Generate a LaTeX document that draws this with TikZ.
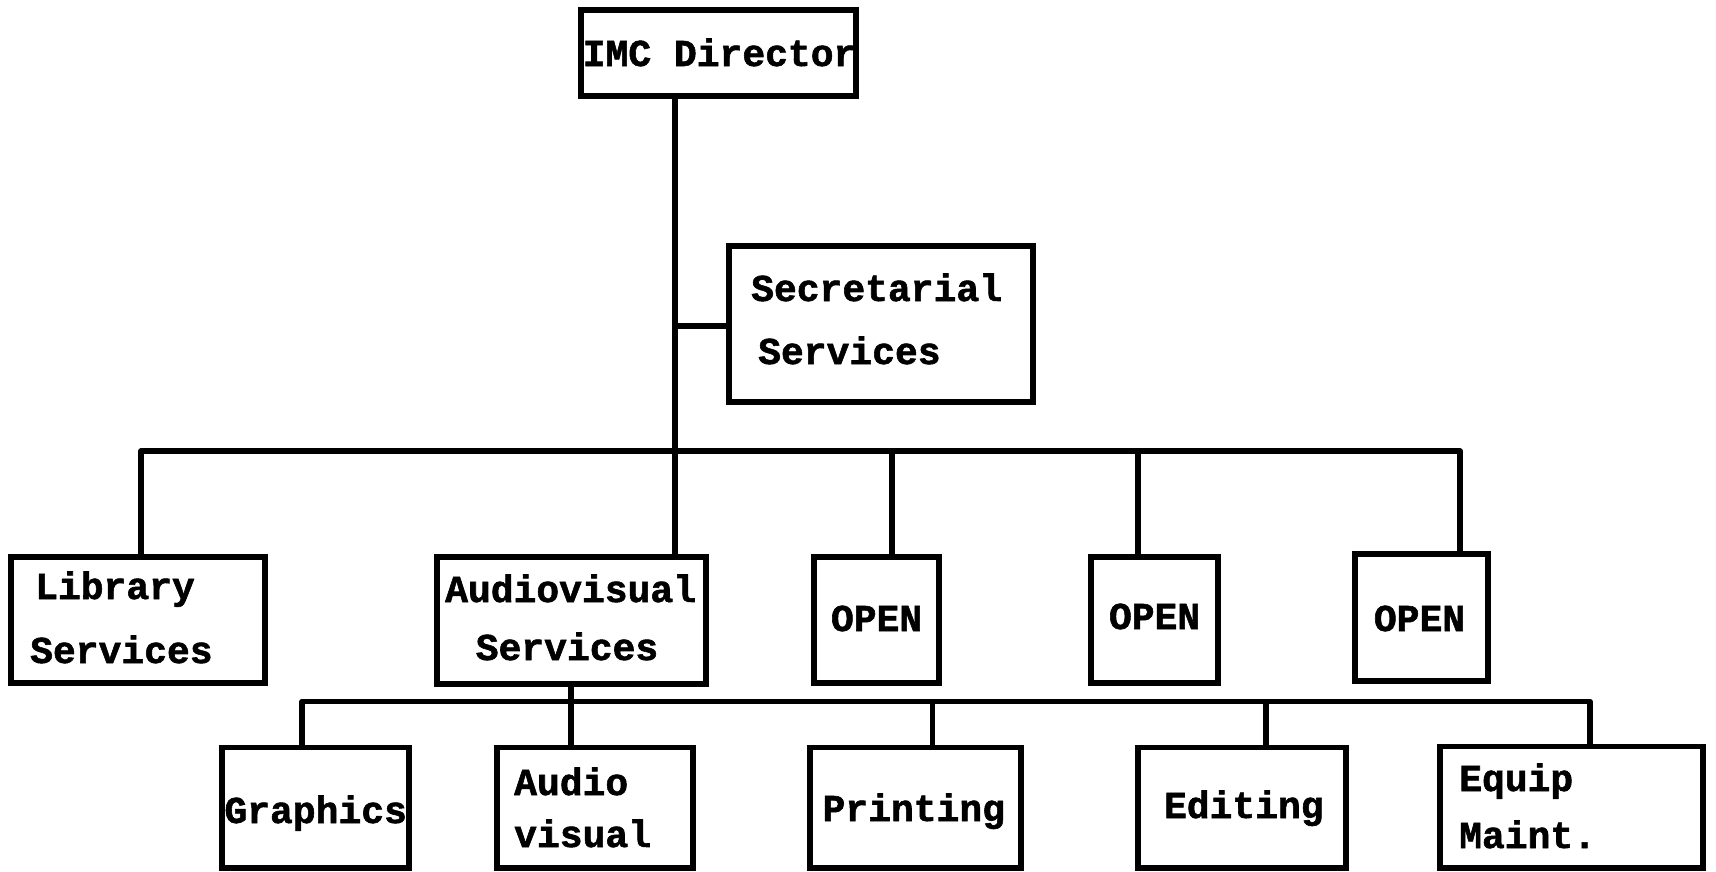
\documentclass[tikz,border=0pt]{standalone}
\usepackage{fontspec}
\newfontfamily\tyf[FakeBold=1.5]{Liberation Mono Bold}
\begin{document}
\begin{tikzpicture}[x=1pt,y=-1pt,
  box/.style={draw, line width=5.5pt, rectangle, inner sep=0pt},
  conn/.style={draw, line width=5.5pt, line join=round},
  lbl/.style={font=\tyf\fontsize{38}{40}\selectfont, inner sep=0pt}]
\useasboundingbox (0,0) rectangle (1716,871);
% boxes
\node[box, minimum width=275pt, minimum height=86pt] (imc) at (718.5,53) {};
\node[box, minimum width=304pt, minimum height=156pt] (sec) at (881,324) {};
\node[box, minimum width=254pt, minimum height=126pt] (lib) at (138,620) {};
\node[box, minimum width=269pt, minimum height=127pt] (av) at (571.5,620.5) {};
\node[box, minimum width=125pt, minimum height=126pt] (op1) at (876.5,620) {};
\node[box, minimum width=127pt, minimum height=126pt] (op2) at (1154.5,620) {};
\node[box, minimum width=133pt, minimum height=127pt] (op3) at (1421.5,617.5) {};
\node[box, minimum width=187pt, minimum height=120.5pt] (gr) at (315.5,807.75) {};
\node[box, minimum width=196pt, minimum height=120.5pt] (avis) at (595,807.75) {};
\node[box, minimum width=211pt, minimum height=120.5pt] (pr) at (915.5,807.75) {};
\node[box, minimum width=208pt, minimum height=120.5pt] (ed) at (1242,807.75) {};
\node[box, minimum width=263pt, minimum height=121.5pt] (eq) at (1571.5,807.25) {};
% labels
\node[lbl, anchor=base] (timc) at (719.6,66) {IMC Director};
\node[lbl, anchor=base west] (tsec1) at (751,301) {Secretarial};
\node[lbl, anchor=base west] (tsec2) at (758,364) {Services};
\node[lbl, anchor=base west] (tlib1) at (35,599) {Library};
\node[lbl, anchor=base west] (tlib2) at (30,663) {Services};
\node[lbl, anchor=base west] (tav1) at (445,602) {Audiovisual};
\node[lbl, anchor=base] (tav2) at (567,660) {Services};
\node[lbl, anchor=base] (to1) at (876.6,631) {OPEN};
\node[lbl, anchor=base] (to2) at (1154.6,629) {OPEN};
\node[lbl, anchor=base] (to3) at (1419.5,631) {OPEN};
\node[lbl, anchor=base] (tgr) at (315.7,823) {Graphics};
\node[lbl, anchor=base west] (tavis1) at (514,795) {Audio};
\node[lbl, anchor=base west] (tavis2) at (514,847) {visual};
\node[lbl, anchor=base] (tpr) at (913.8,821) {Printing};
\node[lbl, anchor=base] (ted) at (1243.8,818) {Editing};
\node[lbl, anchor=base west] (teq1) at (1459,791) {Equip};
\node[lbl, anchor=base west] (teq2) at (1459,848) {Maint.};
% connector coordinates
\coordinate (jsec) at (675,326);
\coordinate (b1) at (141,451);
\coordinate (b2) at (675,451);
\coordinate (b3) at (892,451);
\coordinate (b4) at (1138,451);
\coordinate (b5) at (1460,451);
\coordinate (s1) at (302,701.5);
\coordinate (s2) at (571,701.5);
\coordinate (s3) at (932.4,701.5);
\coordinate (s4) at (1266,701.5);
\coordinate (s5) at (1590,701.5);
% connectors
\path[conn] (imc.south -| b2) -- (av.north -| b2);
\path[conn] (jsec) -- (jsec -| sec.west);
\path[conn] (lib.north -| b1) -- (b1) -- (b5) -- (op3.north -| b5);
\path[conn] (b3) -- (op1.north -| b3);
\path[conn] (b4) -- (op2.north -| b4);
\path[conn] (av.south -| s2) -- (avis.north -| s2);
\path[conn] (gr.north -| s1) -- (s1) -- (s5) -- (eq.north -| s5);
\path[conn] (s3) -- (pr.north -| s3);
\path[conn] (s4) -- (ed.north -| s4);
\end{tikzpicture}
\end{document}
